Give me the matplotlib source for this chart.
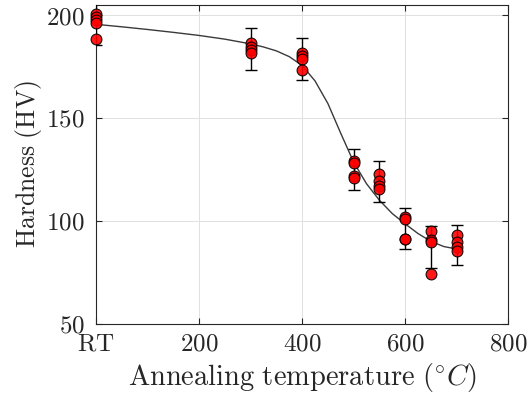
import numpy as np
import matplotlib.pyplot as plt

plt.rcParams['mathtext.fontset'] = 'cm'
plt.rcParams['font.family'] = 'serif'
plt.rcParams['font.serif'] = ['DejaVu Serif']

# measured hardness, one list per annealing temperature (RT plotted at 0)
temps = [0, 300, 400, 500, 550, 600, 650, 700]
hardness = [
    [200.3, 199.2, 197.5, 196.2, 188.5],
    [186.2, 184.6, 183.0, 181.6],
    [181.6, 180.0, 178.6, 173.5],
    [129.0, 128.0, 122.0, 121.0],
    [123.0, 119.5, 117.0, 115.5],
    [101.8, 101.0, 91.2, 91.0],
    [95.3, 90.5, 89.5, 74.3],
    [93.2, 89.9, 87.5, 85.5],
]
mean_hv = [196.3, 183.5, 178.6, 125.0, 119.0, 96.2, 87.5, 88.4]
err_hv = [10.9, 10.0, 10.3, 10.0, 10.0, 10.0, 10.2, 9.8]

# fitted trend line
fit_t = [0, 50, 100, 150, 200, 250, 300, 325, 350, 375, 400, 425, 450,
         475, 500, 525, 550, 575, 600, 625, 650, 675, 700]
fit_hv = [195.5, 194.3, 193.0, 191.6, 190.1, 188.3, 186.0, 184.5, 182.6,
          179.8, 175.5, 168.0, 157.0, 142.5, 128.5, 118.0, 110.0, 103.5,
          98.5, 93.8, 90.0, 87.5, 86.3]

xticks = [0, 200, 400, 600, 800]
xticklabels = ['RT', '200', '400', '600', '800']
yticks = [50, 100, 150, 200]

fig = plt.figure(figsize=(5.31, 3.99), dpi=100)
ax = fig.add_axes([0.1808, 0.1887, 0.7764, 0.7993])

ax.plot(fit_t, fit_hv, '-', color='#3a3a3a', lw=1.0, zorder=2)

ax.errorbar(temps, mean_hv, yerr=err_hv, fmt='none', ecolor='black',
            elinewidth=1.0, capsize=4, capthick=1.0, zorder=3)

for t, vals in zip(temps, hardness):
    ax.plot([t] * len(vals), vals, 'o', ms=7.8, mfc='red', mec='black',
            mew=0.8, alpha=0.9, zorder=4, clip_on=False)

ax.set_xlim(0, 800)
ax.set_ylim(50, 205)
ax.set_xticks(xticks)
ax.set_xticklabels([r'$\mathrm{%s}$' % s for s in xticklabels])
ax.set_yticks(yticks)
ax.set_yticklabels([r'$%d$' % v for v in yticks])
ax.tick_params(direction='in', length=4, width=0.8, top=True, right=True,
               labelsize=18, colors='#262626')
ax.tick_params(axis='x', pad=6)
ax.tick_params(axis='y', pad=8)
ax.grid(True, color='#e0e0e0', lw=0.7)
ax.set_axisbelow(True)
for s in ax.spines.values():
    s.set_color('#262626')
    s.set_linewidth(0.8)

ax.set_xlabel(r'$\mathrm{Annealing\ temperature}\ (^{\circ}C)$', fontsize=20.5,
              labelpad=4, color='#262626')
ax.set_ylabel(r'$\mathrm{Hardness\ (HV)}$', fontsize=18.5, labelpad=2,
              color='#262626')

fig.savefig('out.png', dpi=100)
